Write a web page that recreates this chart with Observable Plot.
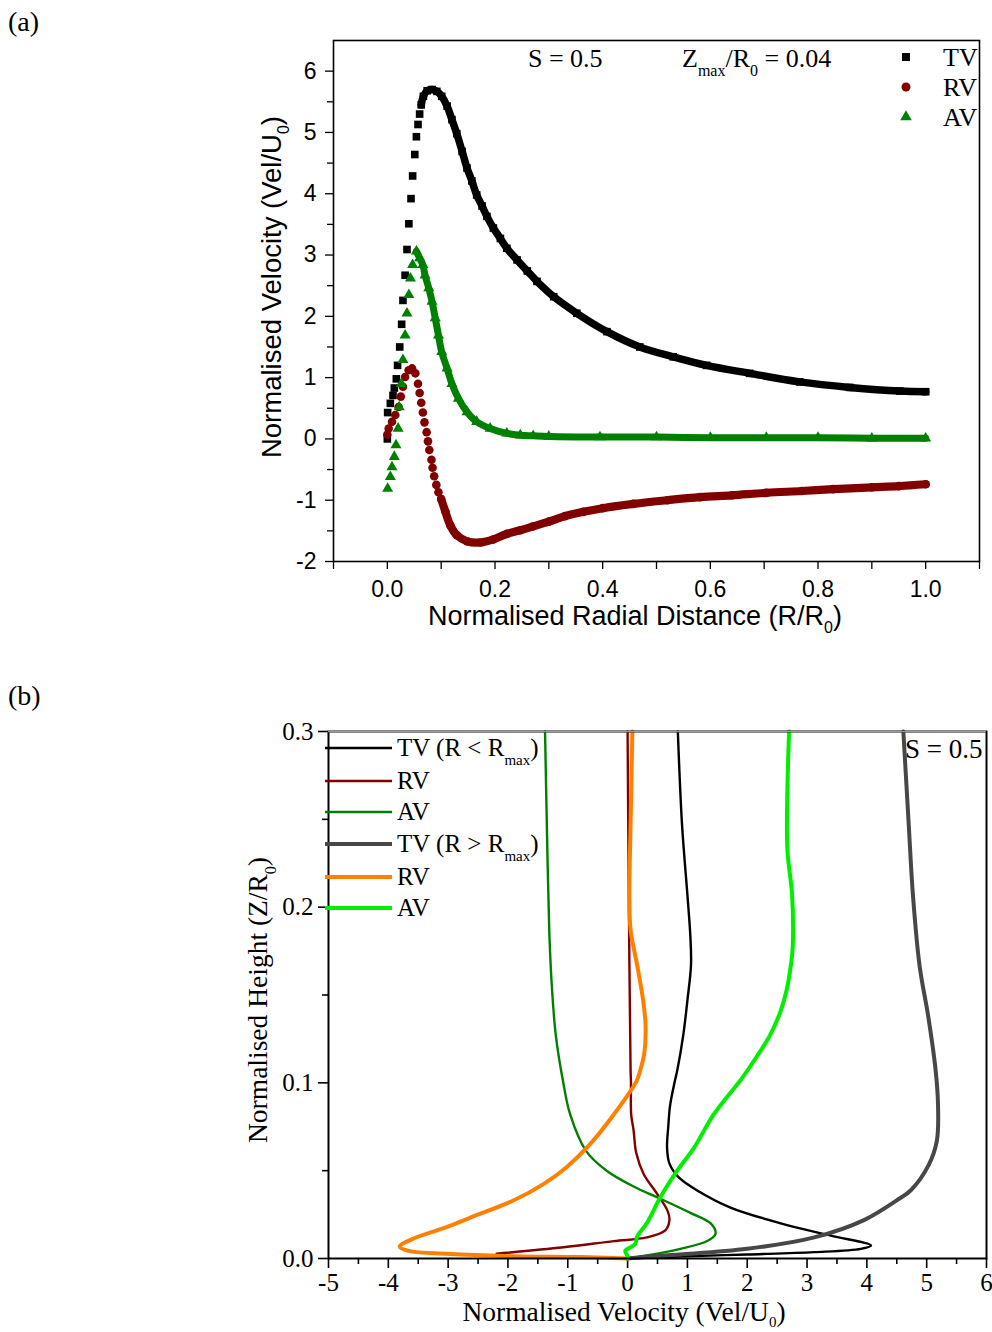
<!DOCTYPE html>
<html><head><meta charset="utf-8">
<script src="https://cdn.jsdelivr.net/npm/d3@7"></script>
<script src="https://cdn.jsdelivr.net/npm/@observablehq/plot@0.6"></script>
<style>
body{margin:0;background:#fff;}
#page{position:relative;width:992px;height:1332px;overflow:hidden;background:#fff;}
#page svg{position:absolute;left:0;overflow:visible;}
</style></head>
<body><div id="page"></div>
<script>
// ---------- Panel (a) data: Normalised Radial Distance vs Normalised Velocity ----------
const tvR = [0, 0.0006, 0.0056, 0.0105, 0.013, 0.0167, 0.019, 0.023, 0.0266, 0.029, 0.033, 0.0365, 0.040, 0.044, 0.047, 0.051, 0.054, 0.057, 0.060, 0.063, 0.067, 0.074, 0.083, 0.092, 0.101, 0.111, 0.120, 0.129, 0.139, 0.148, 0.157, 0.166, 0.176, 0.185, 0.197, 0.210, 0.222, 0.241, 0.260, 0.278, 0.309, 0.352, 0.408, 0.469, 0.531, 0.593, 0.673, 0.766, 0.859, 0.952, 1.0];
const tvV = [0, 0.43, 0.58, 0.71, 0.83, 0.98, 1.20, 1.50, 1.87, 2.26, 2.67, 3.09, 3.51, 3.92, 4.29, 4.64, 4.93, 5.13, 5.30, 5.45, 5.59, 5.68, 5.70, 5.67, 5.59, 5.43, 5.21, 4.98, 4.69, 4.42, 4.21, 3.98, 3.80, 3.63, 3.44, 3.27, 3.11, 2.92, 2.74, 2.57, 2.32, 2.05, 1.75, 1.50, 1.34, 1.20, 1.07, 0.93, 0.84, 0.78, 0.77];
const rvR = [0, 0.0025, 0.0087, 0.0148, 0.021, 0.025, 0.029, 0.033, 0.0396, 0.046, 0.052, 0.057, 0.060, 0.063, 0.066, 0.069, 0.073, 0.0755, 0.078, 0.082, 0.084, 0.087, 0.091, 0.095, 0.100, 0.108, 0.117, 0.129, 0.148, 0.173, 0.197, 0.222, 0.247, 0.27, 0.30, 0.33, 0.364, 0.40, 0.457, 0.52, 0.581, 0.64, 0.704, 0.77, 0.828, 0.90, 0.95, 1.0];
const rvV = [0.07, 0.17, 0.28, 0.39, 0.52, 0.69, 0.85, 1.01, 1.12, 1.15, 1.07, 0.90, 0.75, 0.59, 0.43, 0.27, 0.11, -0.04, -0.18, -0.34, -0.47, -0.61, -0.75, -0.87, -0.98, -1.19, -1.41, -1.57, -1.67, -1.69, -1.64, -1.55, -1.49, -1.43, -1.35, -1.26, -1.19, -1.13, -1.06, -1.00, -0.95, -0.92, -0.88, -0.85, -0.82, -0.79, -0.77, -0.74];
const avR = [0.0006, 0.0056, 0.0087, 0.013, 0.016, 0.020, 0.022, 0.026, 0.029, 0.033, 0.0365, 0.040, 0.043, 0.047, 0.054, 0.060, 0.066, 0.070, 0.077, 0.083, 0.089, 0.095, 0.101, 0.111, 0.120, 0.132, 0.148, 0.166, 0.191, 0.222, 0.247, 0.271, 0.30, 0.395, 0.5, 0.6, 0.704, 0.8, 0.9, 1.0];
const avV = [-0.81, -0.62, -0.46, -0.29, -0.10, 0.17, 0.52, 0.90, 1.29, 1.69, 2.05, 2.35, 2.62, 2.84, 3.06, 2.95, 2.84, 2.67, 2.46, 2.24, 1.97, 1.69, 1.42, 1.15, 0.90, 0.66, 0.44, 0.28, 0.17, 0.09, 0.06, 0.05, 0.04, 0.03, 0.03, 0.02, 0.02, 0.02, 0.01, 0.01];
const xTicksA = [0, 0.2, 0.4, 0.6, 0.8, 1.0];
const xMinorA = [-0.1, 0.1, 0.3, 0.5, 0.7, 0.9, 1.1];
const yTicksA = [-2, -1, 0, 1, 2, 3, 4, 5, 6];
const yMinorA = [-1.5, -0.5, 0.5, 1.5, 2.5, 3.5, 4.5, 5.5];
const xDomainA = [-0.1, 1.1];
const yDomainA = [-2, 6.5];

// ---------- Panel (b) data: Normalised Velocity (v) vs Normalised Height (z) ----------
const tvInZ = [0.3, 0.247, 0.207, 0.183, 0.167, 0.147, 0.127, 0.107, 0.101, 0.087, 0.075, 0.063, 0.054, 0.046, 0.038, 0.029, 0.020, 0.013, 0.0074, 0.0055, 0.0036, 0.0023, 0.0011, 0];
const tvInV = [0.84, 0.91, 1.00, 1.05, 1.06, 1.00, 0.93, 0.83, 0.79, 0.71, 0.68, 0.66, 0.70, 0.86, 1.20, 1.72, 2.56, 3.40, 4.07, 3.90, 3.12, 2.00, 0.88, 0];
const rvInZ = [0.3, 0.207, 0.107, 0.101, 0.082, 0.073, 0.060, 0.048, 0.037, 0.027, 0.022, 0.016, 0.012, 0.0099, 0.0064, 0.0027];
const rvInV = [0.0, 0.02, 0.05, 0.056, 0.06, 0.10, 0.145, 0.27, 0.49, 0.67, 0.70, 0.63, 0.32, -0.23, -1.07, -2.19];
const avInZ = [0.3, 0.247, 0.187, 0.157, 0.127, 0.101, 0.082, 0.061, 0.050, 0.041, 0.034, 0.026, 0.020, 0.014, 0.010, 0.0055, 0.0017, 0];
const avInV = [-1.38, -1.35, -1.31, -1.27, -1.20, -1.08, -0.96, -0.69, -0.35, 0.10, 0.55, 1.05, 1.39, 1.47, 1.33, 0.88, 0.32, 0];
const tvOutZ = [0.3, 0.247, 0.207, 0.167, 0.137, 0.107, 0.087, 0.067, 0.053, 0.039, 0.034, 0.022, 0.012, 0.0055, 0.0023, 0.001, 0];
const tvOutV = [4.61, 4.70, 4.77, 4.88, 5.03, 5.15, 5.19, 5.17, 5.03, 4.74, 4.54, 3.96, 3.12, 2.00, 0.88, 0.30, 0];
const rvOutZ = [0.3, 0.247, 0.207, 0.187, 0.167, 0.147, 0.133, 0.117, 0.107, 0.101, 0.082, 0.065, 0.052, 0.0425, 0.033, 0.0254, 0.0178, 0.0112, 0.0068, 0.0042, 0.0027, 0.0013, 0.0008, 0];
const rvOutV = [0.08, 0.05, 0.03, 0.05, 0.16, 0.26, 0.30, 0.28, 0.21, 0.15, -0.23, -0.63, -1.02, -1.40, -1.91, -2.47, -3.03, -3.59, -3.81, -3.64, -3.03, -1.91, -0.79, 0];
const avOutZ = [0.3, 0.234, 0.207, 0.177, 0.167, 0.153, 0.141, 0.127, 0.115, 0.103, 0.082, 0.063, 0.050, 0.035, 0.020, 0.0125, 0.0083, 0.0062, 0.0044, 0.0013, 0];
const avOutV = [2.70, 2.67, 2.75, 2.76, 2.73, 2.66, 2.56, 2.38, 2.16, 1.92, 1.44, 1.11, 0.83, 0.55, 0.32, 0.16, 0.13, 0.04, -0.04, 0, 0];
const xTicksB = [-5, -4, -3, -2, -1, 0, 1, 2, 3, 4, 5, 6];
const xMinorB = [-4.5, -3.5, -2.5, -1.5, -0.5, 0.5, 1.5, 2.5, 3.5, 4.5, 5.5];
const yTicksB = [0, 0.1, 0.2, 0.3];
const yMinorB = [0.05, 0.15, 0.25];
const xDomainB = [-5, 6];
const yDomainB = [0, 0.3];

const page = document.getElementById("page");
const SANS = "'Liberation Sans', Arial, sans-serif";
const SERIF = "'Liberation Serif', 'Times New Roman', serif";

// helper: text with sub-scripts, parts = [[string, isSub], ...]
function richText(svg, {x, y, rotate = 0, size, family, anchor = "start", parts, subSize, subShift}) {
  const t = d3.select(svg).append("text")
    .attr("font-family", family).attr("font-size", size)
    .attr("text-anchor", anchor).attr("fill", "#000")
    .attr("transform", `translate(${x},${y}) rotate(${rotate})`);
  let shifted = false;
  for (const [s, sub] of parts) {
    const ts = t.append("tspan").text(s);
    if (sub && !shifted) { ts.attr("font-size", subSize).attr("dy", subShift); shifted = true; }
    else if (!sub && shifted) { ts.attr("dy", -subShift); shifted = false; }
    else if (sub) ts.attr("font-size", subSize);
  }
  return t;
}

// ================= Panel (a) =================
{
  const H = 650;
  const series = [
    {xs: tvR, ys: tvV, color: "#000000", symbol: "square", r: 4.3, band: 7.5, from: 0.062},
    {xs: rvR, ys: rvV, color: "#800000", symbol: "circle", r: 4.3, band: 8.2, from: 0.098},
    {xs: avR, ys: avV, color: "#008000", symbol: "triangle", r: 4.1, band: 7, from: 0.05}
  ];
  const marks = [];
  for (const s of series) {
    const rows = s.xs.map((x, i) => ({x, y: s.ys[i]}));
    marks.push(Plot.line(rows.filter(d => d.x >= s.from), {x: "x", y: "y", stroke: s.color, strokeWidth: s.band, curve: "catmull-rom"}));
    marks.push(Plot.dot(rows, {x: "x", y: "y", symbol: s.symbol, r: s.r, fill: s.color}));
  }
  const svg = Plot.plot({
    width: 992, height: H,
    marginLeft: 333, marginRight: 13, marginTop: 40, marginBottom: H - 561,
    x: {domain: xDomainA},
    y: {domain: yDomainA},
    style: {fontFamily: SANS, fontSize: "23px", color: "#000", background: "transparent"},
    marks: [
      Plot.axisX(xTicksA, {tickSize: 8, tickPadding: 11, tickFormat: d3.format(".1f"), label: null, strokeWidth: 1.3, fontSize: 23}),
      Plot.axisX(xMinorA, {tickSize: 8, tickFormat: () => "", label: null, strokeWidth: 1.3}),
      Plot.axisY(yTicksA, {tickSize: 8, tickPadding: 9, tickFormat: d => String(d), label: null, strokeWidth: 1.3, fontSize: 23}),
      Plot.axisY(yMinorA, {tickSize: 6, tickFormat: () => "", label: null, strokeWidth: 1.3}),
      ...marks,
      Plot.frame({stroke: "#000", strokeWidth: 1.6})
    ]
  });
  svg.style.top = "0px";
  page.appendChild(svg);

  richText(svg, {x: 8, y: 31, size: 28, family: SERIF, parts: [["(a)", false]]});
  richText(svg, {x: 635, y: 625, size: 27, family: SANS, anchor: "middle", subSize: 16, subShift: 8,
    parts: [["Normalised Radial Distance (R/R", false], ["0", true], [")", false]]});
  richText(svg, {x: 281, y: 287, rotate: -90, size: 27.5, family: SANS, anchor: "middle", subSize: 16, subShift: 8,
    parts: [["Normalised Velocity (Vel/U", false], ["0", true], [")", false]]});
  richText(svg, {x: 528, y: 67, size: 26, family: SERIF, parts: [["S = 0.5", false]]});
  richText(svg, {x: 682, y: 67, size: 26, family: SERIF, subSize: 16, subShift: 9,
    parts: [["Z", false], ["max", true], ["/R", false], ["0", true], [" = 0.04", false]]});
  // legend
  const leg = [["TV", "#000000", d3.symbolSquare, 57, 64], ["RV", "#800000", d3.symbolCircle, 87, 64], ["AV", "#008000", d3.symbolTriangle, 117, 58]];
  for (const [lab, col, sym, yy, area] of leg) {
    d3.select(svg).append("path").attr("d", d3.symbol(sym, area)()).attr("fill", col)
      .attr("transform", `translate(906,${yy})`);
    richText(svg, {x: 943, y: yy + 9, size: 26, family: SERIF, parts: [[lab, false]]});
  }
}

// ================= Panel (b) =================
{
  const TOP = 650, H = 682;
  const series = [
    {vs: tvInV, zs: tvInZ, color: "#000000", w: 2.4},
    {vs: rvInV, zs: rvInZ, color: "#800000", w: 2.4},
    {vs: avInV, zs: avInZ, color: "#008000", w: 2.4},
    {vs: tvOutV, zs: tvOutZ, color: "#474747", w: 4},
    {vs: rvOutV, zs: rvOutZ, color: "#ff8000", w: 4},
    {vs: avOutV, zs: avOutZ, color: "#00ee00", w: 4}
  ];
  const marks = series.map(s => Plot.line(s.vs.map((v, i) => ({v, z: s.zs[i]})),
    {x: "v", y: "z", stroke: s.color, strokeWidth: s.w, curve: "catmull-rom"}));
  const svg = Plot.plot({
    width: 992, height: H,
    marginLeft: 328, marginRight: 6, marginTop: 731 - TOP, marginBottom: TOP + H - 1258,
    x: {domain: xDomainB},
    y: {domain: yDomainB},
    style: {fontFamily: SERIF, fontSize: "25px", color: "#000", background: "transparent"},
    marks: [
      Plot.axisX(xTicksB, {tickSize: 10, tickPadding: 5, tickFormat: d => String(d), label: null, strokeWidth: 1.6, fontSize: 25}),
      Plot.axisX(xMinorB, {tickSize: 6, tickFormat: () => "", label: null, strokeWidth: 1.6}),
      Plot.axisY(yTicksB, {tickSize: 10, tickPadding: 5, tickFormat: d3.format(".1f"), label: null, strokeWidth: 1.6, fontSize: 25}),
      Plot.axisY(yMinorB, {tickSize: 6, tickFormat: () => "", label: null, strokeWidth: 1.6}),
      ...marks,
      Plot.frame({stroke: "#000", strokeWidth: 2}),
      Plot.ruleY([yDomainB[1]], {stroke: "#9a9a9a", strokeWidth: 1.5})
    ]
  });
  svg.style.top = TOP + "px";
  page.appendChild(svg);

  richText(svg, {x: 8, y: 705 - TOP, size: 28, family: SERIF, parts: [["(b)", false]]});
  richText(svg, {x: 624, y: 1321 - TOP, size: 27.5, family: SERIF, anchor: "middle", subSize: 15, subShift: 6,
    parts: [["Normalised Velocity (Vel/U", false], ["0", true], [")", false]]});
  richText(svg, {x: 267, y: 1000 - TOP, rotate: -90, size: 27.5, family: SERIF, anchor: "middle", subSize: 16, subShift: 9,
    parts: [["Normalised Height (Z/R", false], ["0", true], [")", false]]});
  richText(svg, {x: 905, y: 758 - TOP, size: 27, family: SERIF, parts: [["S = 0.5", false]]});
  const leg = [
    [[["TV (R < R", false], ["max", true], [")", false]], "#000000", 2.4, 748],
    [[["RV", false]], "#800000", 2.4, 781],
    [[["AV", false]], "#008000", 2.4, 812],
    [[["TV (R > R", false], ["max", true], [")", false]], "#474747", 4, 844],
    [[["RV", false]], "#ff8000", 4, 877],
    [[["AV", false]], "#00ee00", 4, 908]
  ];
  for (const [parts, col, w, yy] of leg) {
    d3.select(svg).append("line").attr("x1", 325).attr("x2", 392)
      .attr("y1", yy - TOP).attr("y2", yy - TOP).attr("stroke", col).attr("stroke-width", w);
    richText(svg, {x: 397, y: yy - TOP + 8, size: 25, family: SERIF, subSize: 15, subShift: 9, parts});
  }
}
</script>
</body></html>
